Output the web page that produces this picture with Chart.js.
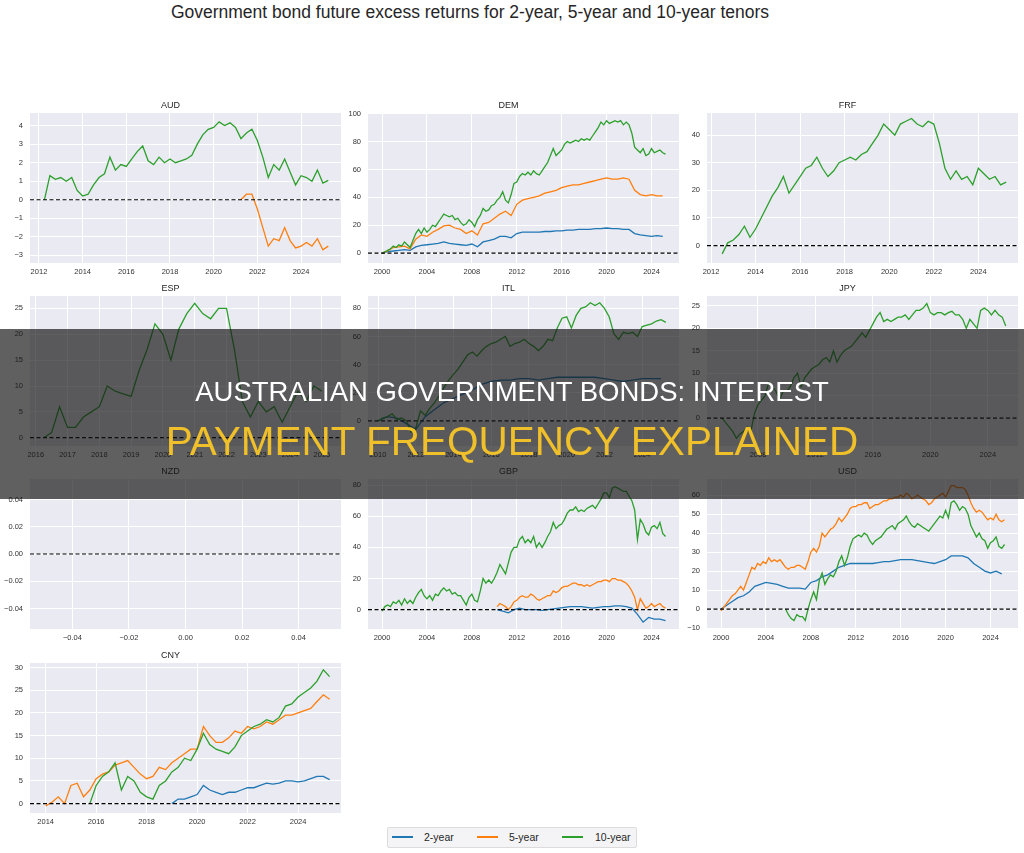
<!DOCTYPE html>
<html>
<head>
<meta charset="utf-8">
<script src="https://cdn.jsdelivr.net/npm/chart.js@4.4.1/dist/chart.umd.min.js"></script>
<style>
  body { margin: 0; background: #fff; width: 1024px; height: 853px; position: relative; overflow: hidden;
         font-family: "Liberation Sans", Arial, sans-serif; }
  canvas { position: absolute; }
  #title { position: absolute; left: 0; width: 940px; top: 4px; text-align: center; font-size: 17.5px;
           line-height: 1; color: #262626; }
  #banner { position: absolute; left: 0; top: 329px; width: 1024px; height: 170px; background: rgba(20,20,20,0.68); z-index: 5; }
  .bl { position: absolute; left: 0; width: 1024px; text-align: center; line-height: 1; white-space: nowrap; z-index: 6; }
  #l1 { top: 377.6px; font-size: 27.5px; color: #fff; }
  #l2 { top: 421px; font-size: 40.5px; color: #f0c02a; }
  #legend { position: absolute; left: 387px; top: 827px; width: 248px; height: 19px; background: #f4f4f6;
            border: 1px solid #dcdcdc; border-radius: 2px; }
  .lk { position: absolute; top: 836px; height: 2px; width: 21px; }
  .lt { position: absolute; top: 831px; font-size: 10.5px; line-height: 12px; color: #262626; }
</style>
</head>
<body>
<div id="title">Government bond future excess returns for 2-year, 5-year and 10-year tenors</div>

<script>
// colours of the three tenors
const C2 = '#1f77b4', C5 = '#ff7f0e', C10 = '#2ca02c';

// ---- data (values per quarter / half year) ----
const aud10Start = 2012.25;
const aud10 = [0,1.3,1.1,1.2, 1.0,1.2,0.5,0.2, 0.3,0.8,1.2,1.4, 2.3,1.6,1.9,1.8, 2.2,2.6,2.9,2.1,
  1.9,2.3,2.0,2.2, 2.0,2.1,2.2,2.4, 3.0,3.5,3.8,3.9, 4.2,4.0,4.15,3.9, 3.3,3.6,3.8,3.2,
  2.3,1.2,1.9,1.6, 2.2,1.5,0.8,1.3, 1.2,1.0,1.6,0.9, 1.05];
const aud5Start = 2021.25;
const aud5 = [0,0.3,0.3,-0.5, -1.5,-2.5,-2.1,-2.2, -1.5,-2.2,-2.6,-2.5, -2.3,-2.5,-2.1,-2.7, -2.5];

const dem10 = [0,1,2,3, 5,4,6,5, 8,6,4,9, 14,17,14,18, 15,17,20,19, 22,25,28,27, 26,27,24,25,
  22,20,21,24, 22,19,24,27, 32,30,31,34, 35,38,40,44, 38,36,42,50, 51,55,57,56, 58,56,59,57,
  56,59,62,65, 70,75,70,72, 74,78,80,79, 80,81,80,82, 81,82,81,84, 87,90,94,92, 95,93,94,95,
  94,95,92,94, 92,86,76,74, 72,75,70,71, 75,72,73,74, 72,71];
const dem5 = [0,1.5,4,4.5,5,3,10,13,12,15,17,19.5,20,18,17,14,16,13,21,22,25,28,30,27,35,38,39,40,
  41,43,44,45,47,48,49,49,50,51,52,53,54,53,53,54,53,45,42,41,42,41,41];
const dem2 = [0,1,1.5,2,2.5,2,4.5,5.5,6,6.5,7,8,7,6.5,6,5.5,6.5,4.5,8,9,10,12,12,11,14,15,15,15,
  15,15.5,15.5,16,16,16.5,16.5,17,17,17,17.5,17.5,18,17.5,17.5,17,17,14,13,12.5,12,12.5,12];

const frf10Start = 2012.5;
const frf10 = [-3,1, 2,4,7,3, 6,10,14,18, 21,25,19,22, 25,28,29,32, 28,25,27,30, 31,32,31,33,
  34,37,40,44, 42,40,44,45, 46,44,43,45, 44,37,28,24, 27,24,25,22, 28,26,24,25, 22,23];

const esp10Start = 2016.25;
const esp10 = [0,1,6, 2,2,4,5, 6,10,9,8.5, 8,13,17,22, 20,15,21,24, 26,24,23,25, 25,17,7,4,
  7,5,6,3, 6,9,7,10, 9];

const itl10 = [0,2,3,5, 1,2,0,-8, -5,7,4,9, 13,18,24,29, 33,37,42,47, 49,46,50,53, 55,56,58,60,
  53,55,56,58, 55,53,50,53, 58,57,66,73, 74,66,75,80, 81,84,82,84, 80,74,62,58, 63,62,63,60,
  67,68,69,71, 72,70];
const itl2 = [0,3,2,-2,-6,3,8,13,16,19,22,26,28,29,29,30,30,29,30,31,31,31,31,31,30,29,28,29,30,30,30];

const jpy10Start = 2005.5;
const jpy10 = [0,-1, -2,-3,-4.5,-3.5, -3,-2,-3,1, 3,4,5,8, 7,6,4,6, 6,7,9,10, 7,9,10,11,
  11.5,12,13,13.5, 12.5,15,12.5,14, 15,15.5,16,17, 18,19,18,19.5, 21,22.5,23.5,21.5,
  22,21.5,22,22.5, 22.5,23,22,23, 24,24,24.5,25.5, 23.5,23,23.5,23.5, 23,23.5,23.8,23,
  23,22,20,22, 21,20,24,24.5, 24,23,24,23, 22.5,20.5];

const gbp10 = [-1,2,3,2, 5,4,6,3, 7,4,6,4, 8,11,13,9, 7,9,6,10, 9,12,14,12, 13,10,11,9,
  9,6,3,8, 10,6,5,12, 20,17,19,17, 20,24,29,26, 23,30,37,40, 40,45,47,43, 45,43,47,40,
  43,40,43,47, 50,56,52,54, 55,58,62,64, 64,66,63,64, 63,65,66,67, 65,68,71,75, 75,72,78,79,
  78,77,76,76, 73,70,64,45, 58,55,50,48, 53,54,52,56, 49,47];
const gbp5Start = 2010.25;
const gbp5 = [2,4,3, 2,0,2,5, 6,8,9,8, 8,10,9,7, 6,7,8,9, 9,12,11,12, 14,15,15,16, 17,17,16,16,
  15,16,15,16, 17,18,18,19, 19,18,20,20, 19,19,18,17, 15,12,8,0, 7,4,1,2, 4,2,3,4, 2,1];
const gbp2Start = 2010.25;
const gbp2 = [0,-1,-2,0,1,0,0,0,-0.5,0,0.5,1,1.5,2,2,2,1.5,1,1.5,2,2,2.5,2.5,2,1,-3,-8,-5,-6,-6,-7];

const usd5 = [-1,1,3,5, 7,8,10,12, 10,14,18,22, 21,24,23,25, 24,27,25,26, 25,26,24,22, 21,22,22,23,
  23,22,21,25, 30,32,30,33, 40,38,40,42, 43,45,48,46, 48,50,53,54, 54,55,55,56, 56,53,54,55,
  55,56,57,57, 58,58,59,59, 60,59,61,60, 58,59,60,59, 58,57,55,56, 58,59,60,61, 59,62,65,65,
  64,64,64,63, 60,56,53,51, 52,51,49,47, 48,47,50,47, 46,47];
const usd10Start = 2005.75;
const usd10 = [0, -3,-5,-6,-3, -4,-4,-6,0, 5,9,5,15, 19,13,16,18, 17,20,25,28, 23,27,33,37,
  38,39,38,40, 39,36,34,36, 37,38,40,42, 43,44,42,45, 46,47,49,46, 44,43,45,44, 43,42,41,43,
  45,47,49,48, 52,48,56,57, 55,52,54,53, 50,44,41,38, 40,37,36,32, 35,36,38,33, 32,34];
const usd2 = [0,2,4,6,7,9,12,13,14,13.5,13,12,11,11,11,10.5,14,15,17,18,20,22,23,24,24,24,24,24,
  24.5,25,25,25.5,26,26,26,25.5,25,24.5,24,25,26,28,28,28,27,24,22,20,19,20,18.5];

const cny5Start = 2014.0;
const cny5 = [-0.5,0.3,1.5,0, 4,4.5,1.5,3, 5.5,6.5,7,8.5, 9,9.5,8,6.5, 5.5,6,8,7.5, 9,10,11,12,
  12,17,15,13.5, 13.5,14.5,16,15.5, 17,16.5,17,18, 17.5,18.5,19.5,19.5, 20,20.5,21,22.5, 24,23];
const cny10Start = 2015.75;
const cny10 = [0, 4,6,7,9, 3,6,5,2.5, 1.5,1,4,5, 7,8,10,9.5, 12,15.5,13,12, 11.5,11,12.5,15,
  16,17,17.5,18.5, 18,19,21.5,22, 23.5,24.5,25.5,27, 29.5,28];
const cny2Start = 2019.0;
const cny2 = [0,1,1,1.5, 2,4,3,2.5, 2,2.5,2.5,3, 3.5,3.5,4,4.5, 4.3,4.5,5,5, 4.8,5,5.5,6, 6,5.3];

// ---- tick values ----
const audXTicks = [2012,2014,2016,2018,2020,2022,2024];
const audYTicks = [-3,-2,-1,0,1,2,3,4];
const demXTicks = [2000,2004,2008,2012,2016,2020,2024];
const demYTicks = [0,20,40,60,80,100];
const frfXTicks = [2012,2014,2016,2018,2020,2022,2024];
const frfYTicks = [0,10,20,30,40];
const espXTicks = [2016,2017,2018,2019,2020,2021,2022,2023,2024,2025];
const espYTicks = [0,5,10,15,20,25];
const itlXTicks = [2010,2012,2014,2016,2018,2020,2022,2024];
const itlYTicks = [0,20,40,60,80];
const jpyXTicks = [2008,2012,2016,2020,2024];
const jpyYTicks = [0,5,10,15,20,25];
const nzdTicks = [-0.04,-0.02,0,0.02,0.04];
const gbpXTicks = [2000,2004,2008,2012,2016,2020,2024];
const gbpYTicks = [0,20,40,60,80];
const usdXTicks = [2000,2004,2008,2012,2016,2020,2024];
const usdYTicks = [-10,0,10,20,30,40,50,60];
const cnyXTicks = [2014,2016,2018,2020,2022,2024];
const cnyYTicks = [0,5,10,15,20,25,30];

// ---- layout ----
const W = 311, H = 150, YW = 30, TH = 13, XH = 16, RP = 4;
const colLeft = [30, 368, 707];
const rowTop = [113, 296, 479, 663];
const FONT = '"Liberation Sans", Arial, sans-serif';
const TICK = '#333333';

const series = (start, step, vals) => vals.map((v, i) => ({ x: start + i * step, y: v }));
const fmtInt = v => (v < 0 ? '\u2212' + Math.abs(v) : String(v));
const fmt2 = v => (v < -1e-9 ? '\u2212' + Math.abs(v).toFixed(2) : Math.abs(v).toFixed(2));

const panels = [
  { name: 'AUD', col: 0, row: 0, xr: [2011.59, 2025.83], yr: [-3.41, 4.68], xt: audXTicks, yt: audYTicks,
    lines: [[C10, series(aud10Start, 0.25, aud10)], [C5, series(aud5Start, 0.25, aud5)]] },
  { name: 'DEM', col: 1, row: 0, xr: [1998.75, 2026.45], yr: [-7.1, 100.5], xt: demXTicks, yt: demYTicks,
    lines: [[C10, series(2000, 0.25, dem10)], [C5, series(2000, 0.5, dem5)], [C2, series(2000, 0.5, dem2)]] },
  { name: 'FRF', col: 2, row: 0, xr: [2011.82, 2025.78], yr: [-6.3, 48], xt: frfXTicks, yt: frfYTicks,
    lines: [[C10, series(frf10Start, 0.25, frf10)]] },
  { name: 'ESP', col: 0, row: 1, xr: [2015.82, 2025.6], yr: [-1.6, 27.4], xt: espXTicks, yt: espYTicks,
    lines: [[C10, series(esp10Start, 0.25, esp10)]] },
  { name: 'ITL', col: 1, row: 1, xr: [2009.47, 2025.95], yr: [-17.9, 88.8], xt: itlXTicks, yt: itlYTicks,
    lines: [[C10, series(2010, 0.25, itl10)], [C2, series(2010, 0.5, itl2)]] },
  { name: 'JPY', col: 2, row: 1, xr: [2004.45, 2026.1], yr: [-6.2, 27.2], xt: jpyXTicks, yt: jpyYTicks,
    lines: [[C10, series(jpy10Start, 0.25, jpy10)]] },
  { name: 'NZD', col: 0, row: 2, xr: [-0.055, 0.055], yr: [-0.055, 0.055], xt: nzdTicks, yt: nzdTicks,
    fmt: fmt2, lines: [] },
  { name: 'GBP', col: 1, row: 2, xr: [1998.75, 2026.45], yr: [-12.4, 83.9], xt: gbpXTicks, yt: gbpYTicks,
    lines: [[C10, series(2000, 0.25, gbp10)], [C5, series(gbp5Start, 0.25, gbp5)], [C2, series(gbp2Start, 0.5, gbp2)]] },
  { name: 'USD', col: 2, row: 2, xr: [1998.75, 2026.45], yr: [-10.5, 68.5], xt: usdXTicks, yt: usdYTicks,
    lines: [[C10, series(usd10Start, 0.25, usd10)], [C5, series(2000, 0.25, usd5)], [C2, series(2000, 0.5, usd2)]] },
  { name: 'CNY', col: 0, row: 3, xr: [2013.38, 2025.7], yr: [-2.07, 31], xt: cnyXTicks, yt: cnyYTicks,
    lines: [[C10, series(cny10Start, 0.25, cny10)], [C5, series(cny5Start, 0.25, cny5)], [C2, series(cny2Start, 0.25, cny2)]] }
];

const bgPlugin = {
  id: 'bg',
  beforeDraw(chart) {
    const a = chart.chartArea, ctx = chart.ctx;
    ctx.save();
    ctx.fillStyle = '#eaeaf2';
    ctx.fillRect(a.left, a.top, a.right - a.left, a.bottom - a.top);
    ctx.restore();
  }
};

const zeroLine = {
  id: 'zeroLine',
  afterDatasetsDraw(chart) {
    const a = chart.chartArea, ctx = chart.ctx;
    const py = chart.scales.y.getPixelForValue(0);
    ctx.save();
    ctx.strokeStyle = '#000';
    ctx.lineWidth = 1.2;
    ctx.setLineDash([4, 2.5]);
    ctx.beginPath();
    ctx.moveTo(a.left, py);
    ctx.lineTo(a.right, py);
    ctx.stroke();
    ctx.restore();
  }
};

function makePanel(p) {
  const cv = document.createElement('canvas');
  cv.width = W + YW + RP;
  cv.height = TH + H + XH;
  cv.style.left = (colLeft[p.col] - YW) + 'px';
  cv.style.top = (rowTop[p.row] - TH) + 'px';
  document.body.appendChild(cv);
  const fmt = p.fmt || fmtInt;
  const axis = (range, ticks, isX) => ({
    type: 'linear',
    min: range[0], max: range[1],
    grid: { color: '#ffffff', lineWidth: 1, drawTicks: false },
    border: { display: false },
    ticks: { color: TICK, font: { family: FONT, size: 7.5 }, padding: isX ? 4 : 7,
             maxRotation: 0, autoSkip: false, callback: v => fmt(v) },
    afterBuildTicks: s => { s.ticks = ticks.map(v => ({ value: v })); },
    afterFit: s => { if (isX) s.height = XH; else s.width = YW; }
  });
  new Chart(cv, {
    type: 'line',
    data: {
      datasets: p.lines.map((l, i) => ({
        data: l[1], borderColor: l[0], borderWidth: 1.3, pointRadius: 0, fill: false, tension: 0, order: i
      }))
    },
    options: {
      responsive: false, animation: false, devicePixelRatio: 1, events: [],
      layout: { padding: { left: 0, top: 0, right: RP, bottom: 0 } },
      plugins: {
        legend: { display: false },
        tooltip: { enabled: false },
        title: { display: true, text: p.name, color: '#262626',
                 font: { family: FONT, size: 9, weight: 'normal', lineHeight: 1.2 },
                 padding: { top: 0, bottom: 2.2 } }
      },
      scales: { x: axis(p.xr, p.xt, true), y: axis(p.yr, p.yt, false) }
    },
    plugins: [bgPlugin, zeroLine]
  });
}

panels.forEach(makePanel);
</script>

<div id="banner"></div>
<div class="bl" id="l1">AUSTRALIAN GOVERNMENT BONDS: INTEREST</div>
<div class="bl" id="l2">PAYMENT FREQUENCY EXPLAINED</div>

<div id="legend"></div>
<div class="lk" style="left:392px;background:#1f77b4"></div>
<div class="lt" style="left:424px">2-year</div>
<div class="lk" style="left:477px;background:#ff7f0e"></div>
<div class="lt" style="left:509px">5-year</div>
<div class="lk" style="left:562px;background:#2ca02c"></div>
<div class="lt" style="left:595px">10-year</div>
</body>
</html>
